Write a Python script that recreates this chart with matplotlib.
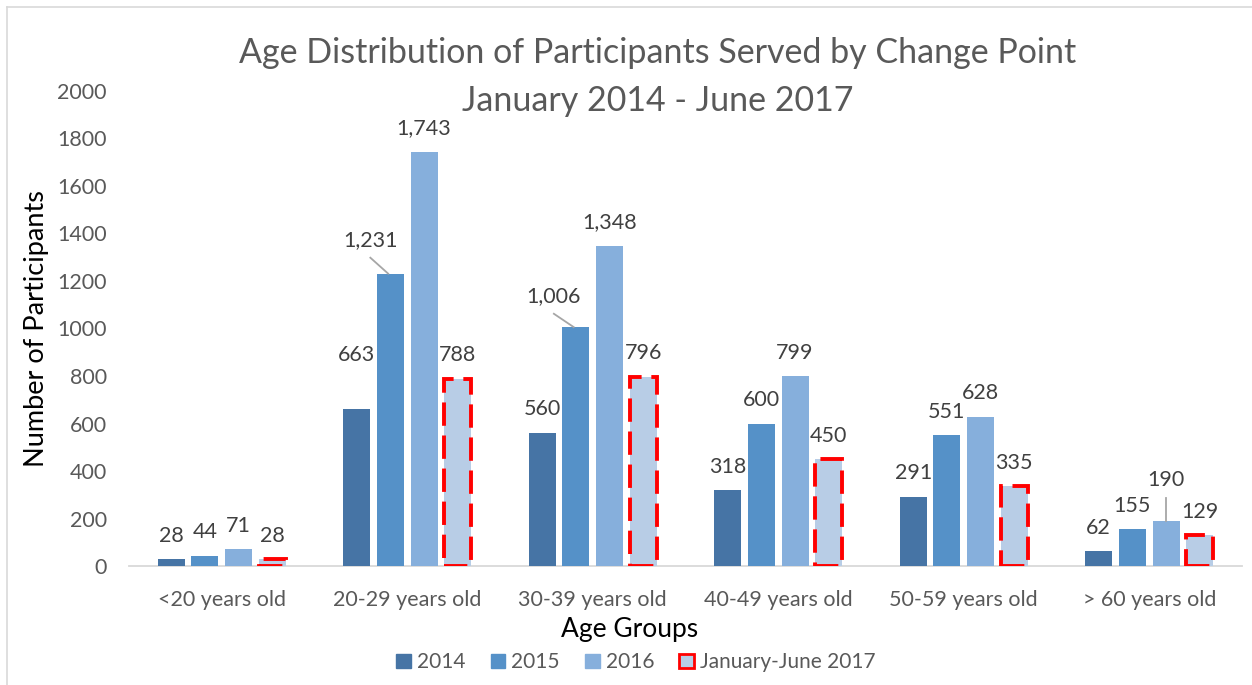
import numpy as np
import matplotlib.pyplot as plt
from matplotlib.lines import Line2D

plt.rcParams['font.family'] = ['Lato', 'DejaVu Sans']

groups = ['<20 years old', '20-29 years old', '30-39 years old',
          '40-49 years old', '50-59 years old', '> 60 years old']
series = ['2014', '2015', '2016', 'January-June 2017']
v2014 = [28, 663, 560, 318, 291, 62]
v2015 = [44, 1231, 1006, 600, 551, 155]
v2016 = [71, 1743, 1348, 799, 628, 190]
v2017 = [28, 788, 796, 450, 335, 129]

colors = ['#4674a5', '#5591c8', '#86afdc', '#b8cde6']

fig = plt.figure(figsize=(12.52, 6.85), dpi=100)
ax = fig.add_axes([0.103, 0.1737, 0.889, 0.6935])

x = np.arange(len(groups))
step = 0.1816
width = 0.1456
all_vals = [v2014, v2015, v2016, v2017]
for i, vals in enumerate(all_vals):
    off = (i - 1.5) * step
    if i == 3:
        ax.bar(x + off, vals, width, color=colors[i], edgecolor='#ff0000',
               linewidth=2.8, linestyle=(0, (6, 2.5)), label=series[i], zorder=3)
    else:
        ax.bar(x + off, vals, width, color=colors[i], label=series[i], zorder=3)

# data labels; a few were moved by hand in the original (with leader lines)
moved = {(0, 1): (0, 888, False), (1, 1): (-20 / 185.5, 1373, True),
         (1, 2): (-22 / 185.5, 1137, True), (2, 5): (0, 362, True)}
for i, vals in enumerate(all_vals):
    off = (i - 1.5) * step
    for j, v in enumerate(vals):
        txt = f'{v:,}'
        if (i, j) in moved:
            dx, ty, leader = moved[(i, j)]
            ax.text(x[j] + off + dx, ty, txt, ha='center', va='center',
                    fontsize=15.5, color='#404040')
            if leader:
                if dx == 0:
                    ax.plot([x[j] + off, x[j] + off], [ty - 75, v], color='#a6a6a6',
                            lw=1.3, zorder=4)
                else:
                    ax.plot([x[j] + off + dx - 0.04 * (i == 2), x[j] + off - 0.012],
                            [ty - 75, v], color='#a6a6a6', lw=1.3, zorder=4)
        else:
            ax.annotate(txt, (x[j] + off, v), xytext=(0, 17), textcoords='offset points',
                        ha='center', va='center', fontsize=15.5, color='#404040')

ax.set_xlim(-0.5, len(groups) - 0.5)
ax.set_ylim(0, 2000)
ax.set_yticks(range(0, 2001, 200))
ax.set_xticks(x)
ax.set_xticklabels(groups)
ax.tick_params(axis='both', length=0, labelsize=15.5, labelcolor='#595959')
ax.tick_params(axis='x', pad=17)
ax.tick_params(axis='y', pad=16)
for s in ['top', 'right', 'left']:
    ax.spines[s].set_visible(False)
ax.spines['bottom'].set_color('#d9d9d9')
ax.spines['bottom'].set_linewidth(1.3)

ax.set_ylabel('Number of Participants', fontsize=19.5, color='#000000', labelpad=6)
ax.set_xlabel('Age Groups', fontsize=19, color='#000000', labelpad=2)
ax.xaxis.set_label_coords((630 - 129) / (1242 - 129), -0.107)

fig.text(0.525, 0.923, 'Age Distribution of Participants Served by Change Point',
         ha='center', va='center', fontsize=24.5, color='#595959')
fig.text(0.525, 0.853, 'January 2014 - June 2017',
         ha='center', va='center', fontsize=24.5, color='#595959')

handles = [plt.Rectangle((0, 0), 1, 1, color=colors[0]),
           plt.Rectangle((0, 0), 1, 1, color=colors[1]),
           plt.Rectangle((0, 0), 1, 1, color=colors[2]),
           plt.Rectangle((0, 0), 1, 1, facecolor=colors[3], edgecolor='#ff0000', linewidth=2)]
fig.legend(handles, series, loc='center', bbox_to_anchor=(0.508, 0.033), ncol=4,
           frameon=False, fontsize=15, handlelength=0.7, handleheight=0.7,
           handletextpad=0.3, columnspacing=1.2, labelcolor='#595959')

# chart border
fig.add_artist(Line2D([7 / 1252, 1], [1 - 7 / 685, 1 - 7 / 685], color='#d9d9d9', lw=1.2))
fig.add_artist(Line2D([7 / 1252, 7 / 1252], [0, 1 - 7 / 685], color='#d9d9d9', lw=1.2))

fig.savefig('out.png', dpi=100)
